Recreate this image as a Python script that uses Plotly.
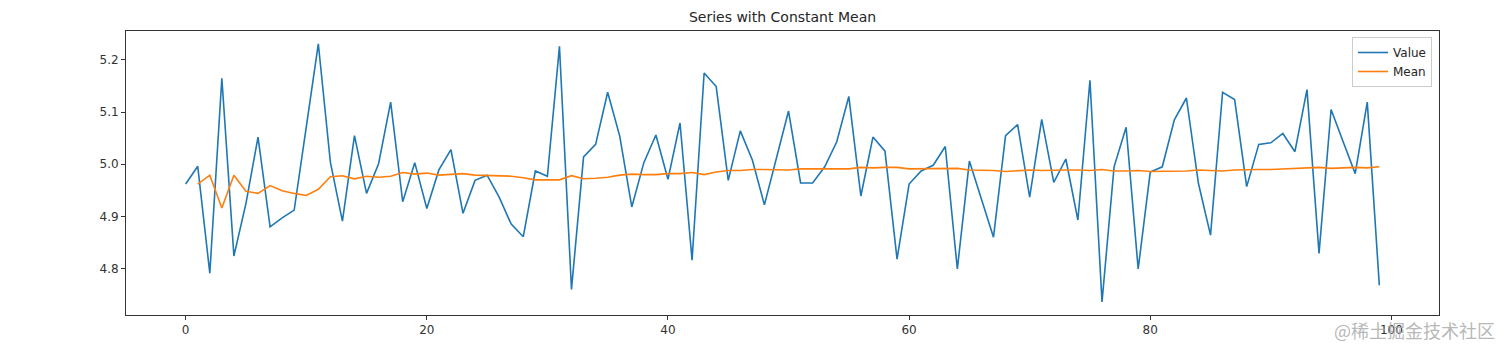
import plotly.graph_objects as go

# Data
x_value = list(range(100))
values = [
    4.962, 4.996, 4.791, 5.165, 4.824, 4.925, 5.052, 4.880, 4.897, 4.912,
    5.071, 5.231, 5.004, 4.891, 5.055, 4.944, 5.001, 5.119, 4.928, 5.003,
    4.915, 4.989, 5.028, 4.906, 4.969, 4.979, 4.937, 4.885, 4.861, 4.987,
    4.977, 5.226, 4.760, 5.014, 5.038, 5.138, 5.054, 4.918, 5.003, 5.056,
    4.971, 5.079, 4.816, 5.175, 5.149, 4.969, 5.064, 5.008, 4.922, 5.011,
    5.102, 4.964, 4.964, 4.995, 5.043, 5.130, 4.939, 5.052, 5.025, 4.818,
    4.962, 4.987, 4.998, 5.034, 4.799, 5.006, 4.932, 4.860, 5.055, 5.076,
    4.937, 5.086, 4.965, 5.010, 4.893, 5.161, 4.736, 4.995, 5.071, 4.799,
    4.985, 4.995, 5.085, 5.127, 4.963, 4.864, 5.138, 5.124, 4.957, 5.038,
    5.041, 5.059, 5.024, 5.143, 4.829, 5.105, 5.043, 4.982, 5.119, 4.768,
]

x_mean = list(range(1, 100))
means = [
    4.962, 4.979, 4.916, 4.979, 4.948, 4.944, 4.959, 4.949, 4.944, 4.940,
    4.952, 4.976, 4.978, 4.972, 4.977, 4.975, 4.977, 4.984, 4.981, 4.983,
    4.979, 4.980, 4.982, 4.979, 4.978, 4.978, 4.977, 4.974, 4.970, 4.970,
    4.970, 4.978, 4.972, 4.973, 4.975, 4.979, 4.981, 4.980, 4.980, 4.982,
    4.982, 4.984, 4.980, 4.985, 4.988, 4.988, 4.990, 4.990, 4.989, 4.989,
    4.991, 4.991, 4.990, 4.990, 4.991, 4.994, 4.993, 4.994, 4.994, 4.991,
    4.991, 4.991, 4.991, 4.992, 4.989, 4.989, 4.988, 4.986, 4.987, 4.989,
    4.988, 4.989, 4.989, 4.989, 4.988, 4.990, 4.987, 4.987, 4.988, 4.986,
    4.986, 4.986, 4.987, 4.989, 4.988, 4.987, 4.989, 4.990, 4.990, 4.990,
    4.991, 4.992, 4.992, 4.994, 4.992, 4.993, 4.994, 4.993, 4.995,
]

x_ticks = [0, 20, 40, 60, 80, 100]
y_ticks = [4.8, 4.9, 5.0, 5.1, 5.2]
y_tick_labels = ["4.8", "4.9", "5.0", "5.1", "5.2"]

W, H = 1512, 354
L, R, T, B = 126, 1439, 31, 315

fig = go.Figure()
fig.add_trace(go.Scatter(x=x_value, y=values, mode="lines", name="Value",
                         line=dict(color="#1f77b4", width=1.6)))
fig.add_trace(go.Scatter(x=x_mean, y=means, mode="lines", name="Mean",
                         line=dict(color="#ff7f0e", width=1.6)))

axis_common = dict(showline=True, linecolor="#333333", linewidth=1, mirror=True,
                   ticks="outside", ticklen=4, tickcolor="#333333", tickwidth=1,
                   showgrid=False, zeroline=False,
                   tickfont=dict(family="DejaVu Sans", size=12, color="#333333"))

fig.update_layout(
    width=W, height=H,
    margin=dict(l=L, r=W - R, t=T, b=H - B),
    paper_bgcolor="white", plot_bgcolor="white",
    title=dict(text="Series with Constant Mean", x=(L + R) / 2 / W, xanchor="center",
               y=1 - 17 / H, yanchor="middle", yref="container",
               font=dict(family="DejaVu Sans", size=14, color="#262626")),
    xaxis=dict(range=[-4.95, 103.95], tickvals=x_ticks, ticktext=[str(t) for t in x_ticks],
               **axis_common),
    yaxis=dict(range=[4.7108, 5.2555], tickvals=y_ticks, ticktext=y_tick_labels,
               **axis_common),
    legend=dict(x=(1432 - L) / (R - L), y=(B - 37) / (B - T), xanchor="right", yanchor="top",
                bgcolor="rgba(255,255,255,0.85)", bordercolor="#cccccc", borderwidth=1,
                font=dict(family="DejaVu Sans", size=12, color="#262626"),
                itemwidth=30, tracegroupgap=0),
    showlegend=True,
    annotations=[dict(text="@稀土掘金技术社区", xref="paper", yref="paper",
                      x=(1497 - L) / (R - L), y=(B - 330) / (B - T),
                      xanchor="right", yanchor="middle", showarrow=False,
                      font=dict(family="Noto Sans CJK SC", size=18,
                                color="rgba(170,170,170,0.85)"))],
)

fig.write_html("out.html")
